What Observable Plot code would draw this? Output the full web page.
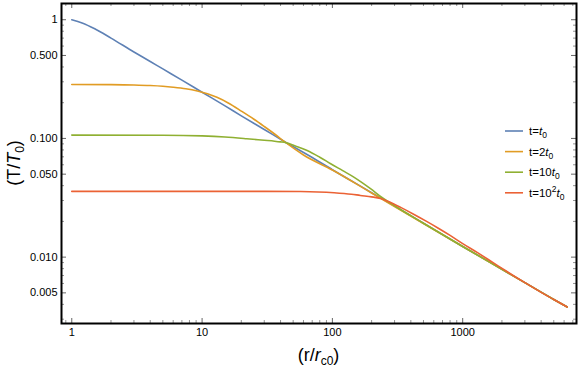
<!DOCTYPE html>
<html><head><meta charset="utf-8">
<script src="https://cdn.jsdelivr.net/npm/d3@7"></script>
<script src="https://cdn.jsdelivr.net/npm/@observablehq/plot@0.6"></script>
<style>body{margin:0;background:#fff;} #chart{position:relative;width:581px;height:369px;}</style>
</head><body><div id="chart"></div>
<script>
const seriesNames = ["t=t0", "t=2t0", "t=10t0", "t=10^2t0"];
const seriesColors = ["#5E81B5", "#E19C24", "#8FB032", "#EB6235"];

const blueX = [1, 1.2, 1.5, 2, 3, 4, 5, 7, 10, 15, 20, 30, 44, 70, 100, 150, 200, 300, 500, 1000, 2000, 3000, 5000, 6340];
const blueY = [1.0, 0.94, 0.84, 0.70, 0.535, 0.445, 0.385, 0.31, 0.245, 0.188, 0.155, 0.119, 0.0925, 0.069, 0.0545, 0.042, 0.0349, 0.0269, 0.0193, 0.0123, 0.0079, 0.0061, 0.0044, 0.0038];

const orangeX = [1, 2, 3, 4, 5, 6, 7.5, 9.2, 11, 13, 16, 20, 25, 30, 36, 44, 60, 100, 200, 500, 1000, 2000, 5000, 6340];
const orangeY = [0.285, 0.284, 0.282, 0.279, 0.275, 0.27, 0.262, 0.251, 0.238, 0.222, 0.198, 0.17, 0.145, 0.126, 0.109, 0.092, 0.0725, 0.0542, 0.0347, 0.0192, 0.0123, 0.0079, 0.0044, 0.0038];

const greenX = [1, 5, 10, 15, 22, 30, 36, 40, 44, 48, 52, 58, 64, 80, 97, 120, 146, 170, 196, 240, 300, 500, 1000, 2000, 5000, 6340];
const greenY = [0.1067, 0.1065, 0.105, 0.1027, 0.0994, 0.0965, 0.0948, 0.0935, 0.092, 0.0895, 0.0865, 0.0828, 0.0792, 0.0695, 0.0612, 0.0535, 0.0472, 0.0422, 0.0377, 0.0318, 0.0271, 0.0193, 0.0123, 0.0079, 0.0044, 0.0038];

const redX = [1, 10, 30, 57, 103, 140, 164, 200, 234, 280, 340, 420, 520, 650, 800, 1000, 1300, 1700, 2200, 3000, 4000, 5000, 6340];
const redY = [0.0358, 0.0358, 0.0358, 0.0357, 0.0349, 0.0339, 0.0331, 0.0322, 0.0312, 0.0289, 0.0260, 0.0230, 0.0202, 0.01753, 0.01525, 0.0130, 0.0109, 0.00903, 0.00753, 0.0061, 0.00505, 0.0044, 0.0038];

const xTickValues = [1, 10, 100, 1000];
const xTickLabels = ["1", "10", "100", "1000"];
const yTickValues = [1, 0.5, 0.1, 0.05, 0.01, 0.005];
const yTickLabels = ["1", "0.500", "0.100", "0.050", "0.010", "0.005"];

const xDomain = [0.834, 7470];
const yDomain = [0.00276, 1.37];

const seriesXs = [blueX, orangeX, greenX, redX];
const seriesYs = [blueY, orangeY, greenY, redY];
const rows = [];
seriesXs.forEach((xs, s) => xs.forEach((x, i) => rows.push({x, y: seriesYs[s][i], s: seriesNames[s]})));

function minorTicks(domain, majors) {
  const out = [];
  for (let k = -4; k <= 4; k++) for (let m = 1; m <= 9; m++) {
    const v = +(m * Math.pow(10, k)).toPrecision(6);
    if (v >= domain[0] && v <= domain[1] && !majors.some(t => Math.abs(t - v) / v < 1e-6)) out.push(v);
  }
  return out;
}
const xMinor = minorTicks(xDomain, xTickValues);
const yMinor = minorTicks(yDomain, yTickValues);

const W = 581, H = 369, mT = 3, mB = 46, mL = 61, mR = 5;
const pH = H - mT - mB, pW = W - mL - mR;
const tickColor = "#666";

const svg = Plot.plot({
  width: W, height: H, marginTop: mT, marginBottom: mB, marginLeft: mL, marginRight: mR,
  style: {fontFamily: "'Liberation Sans', Arial, sans-serif", fontSize: "11px", background: "#fff", color: "#000"},
  x: {type: "log", domain: xDomain, axis: null},
  y: {type: "log", domain: yDomain, axis: null},
  color: {domain: seriesNames, range: seriesColors},
  marks: [
    Plot.text(xTickValues, {x: d => d, text: (d, i) => xTickLabels[i], frameAnchor: "bottom", dy: 9, lineAnchor: "middle", fontSize: 11, fill: "#000"}),
    Plot.text(yTickValues, {y: d => d, text: (d, i) => yTickLabels[i], frameAnchor: "left", dx: -4, textAnchor: "end", lineAnchor: "middle", fontSize: 11, fill: "#000"}),
    Plot.ruleX(xTickValues, {x: d => d, insetTop: pH - 5, stroke: tickColor}),
    Plot.ruleX(xTickValues, {x: d => d, insetBottom: pH - 5, stroke: tickColor}),
    Plot.ruleX(xMinor, {x: d => d, insetTop: pH - 3, stroke: tickColor, strokeOpacity: 0.7}),
    Plot.ruleX(xMinor, {x: d => d, insetBottom: pH - 3, stroke: tickColor, strokeOpacity: 0.7}),
    Plot.ruleY(yTickValues, {y: d => d, insetRight: pW - 5, stroke: tickColor}),
    Plot.ruleY(yTickValues, {y: d => d, insetLeft: pW - 5, stroke: tickColor}),
    Plot.ruleY(yMinor, {y: d => d, insetRight: pW - 3, stroke: tickColor, strokeOpacity: 0.7}),
    Plot.ruleY(yMinor, {y: d => d, insetLeft: pW - 3, stroke: tickColor, strokeOpacity: 0.7}),
    Plot.line(rows, {x: "x", y: "y", z: "s", stroke: "s", strokeWidth: 1.6, curve: "monotone-x"}),
    Plot.frame({stroke: "#000", strokeWidth: 2})
  ]
});

const S = d3.select(svg);
const font = "'Liberation Sans', Arial, sans-serif";
// x axis label
const xl = S.append("text").attr("x", mL + pW / 2).attr("y", 361).attr("text-anchor", "middle")
  .style("font-family", font).style("font-size", "18px").attr("fill", "#000");
xl.append("tspan").text("(r/");
xl.append("tspan").attr("font-style", "italic").text("r");
xl.append("tspan").attr("font-size", "12px").attr("dy", 4).text("c0");
xl.append("tspan").attr("dy", -4).text(")");
// y axis label
const yl = S.append("text").attr("transform", `translate(20,${mT + pH / 2}) rotate(-90)`).attr("text-anchor", "middle")
  .style("font-family", font).style("font-size", "18px").attr("fill", "#000");
yl.append("tspan").text("(T/");
yl.append("tspan").attr("font-style", "italic").text("T");
yl.append("tspan").attr("font-size", "12px").attr("dy", 4).text("0");
yl.append("tspan").attr("dy", -4).text(")");
// legend
const legendParts = [
  [["t="], ["t", "i"], ["0", "sub"]],
  [["t=2"], ["t", "i"], ["0", "sub"]],
  [["t=10"], ["t", "i"], ["0", "sub"]],
  [["t=10"], ["2", "sup"], ["t", "i"], ["0", "sub"]]
];
const lg = S.append("g").style("font-family", font).style("font-size", "11.5px").attr("text-anchor", "start");
seriesNames.forEach((name, i) => {
  const cy = 131 + i * 20.6;
  lg.append("line").attr("x1", 505).attr("x2", 523).attr("y1", cy).attr("y2", cy)
    .attr("stroke", seriesColors[i]).attr("stroke-width", 1.6);
  const t = lg.append("text").attr("x", 529).attr("y", cy + 4).attr("fill", "#000").attr("text-anchor", "start");
  let shift = 0;
  legendParts[i].forEach(([txt, kind]) => {
    const sp = t.append("tspan").text(txt);
    let target = 0;
    if (kind === "i") sp.attr("font-style", "italic");
    if (kind === "sub") { sp.attr("font-size", "8.5px"); target = 3; }
    if (kind === "sup") { sp.attr("font-size", "8.5px"); target = -5; }
    sp.attr("dy", target - shift);
    shift = target;
  });
});
document.getElementById("chart").appendChild(svg);
</script>
</body></html>
